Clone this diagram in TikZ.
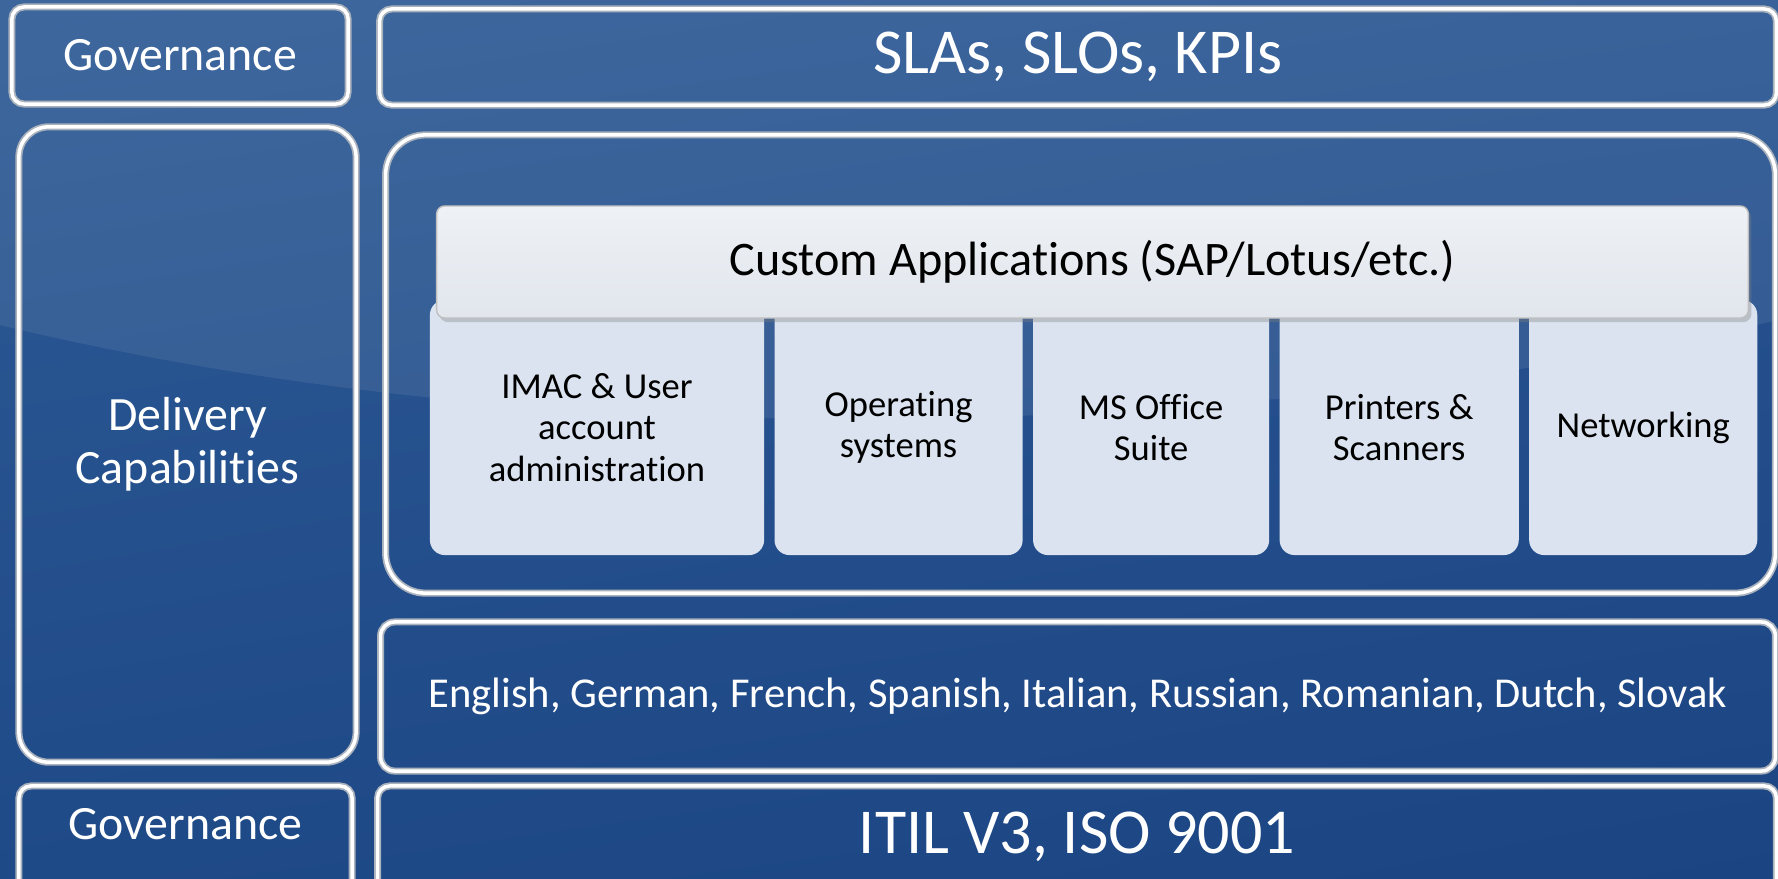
\documentclass[tikz,border=0pt]{standalone}
\usepackage{fontspec}
\setmainfont{Carlito}[Ligatures=NoCommon]
\usetikzlibrary{positioning,shadows,shadings}

\definecolor{bgtl}{HTML}{2D5A95}
\definecolor{bgtr}{HTML}{295592}
\definecolor{bgbl}{HTML}{1F4A88}
\definecolor{bgbr}{HTML}{1B4482}
\definecolor{rim}{HTML}{A9B1BC}
\definecolor{tilefill}{HTML}{DAE3EF}
\definecolor{bartop}{HTML}{EEF1F5}
\definecolor{barbot}{HTML}{E1E6ED}

\begin{document}
\begin{tikzpicture}[x=0.01cm,y=-0.01cm,node distance=0.09cm]
	\tikzstyle{frame}=[rectangle, draw=rim, double=white, double distance=1pt, line width=0.5pt, inner sep=0pt, text=white, align=center]
	\tikzstyle{tile}=[rectangle, fill=tilefill, rounded corners=0.15cm, minimum height=2.55cm, inner sep=0pt, align=center, text=black, font=\fontsize{10.4}{11.8}\selectfont]
	\tikzstyle{appbar}=[rectangle, top color=bartop, bottom color=barbot, draw=black!25, line width=0.4pt, rounded corners=0.08cm, drop shadow={shadow xshift=0.03cm, shadow yshift=-0.04cm, opacity=0.35}, text=black, font=\fontsize{13.7}{15}\selectfont]
	\tikzstyle{bigtext}=[font=\fontsize{18.2}{22}\selectfont]
	\tikzstyle{midtext}=[font=\fontsize{13.6}{15}\selectfont]

	\useasboundingbox (0,0) rectangle (1778,878);
	\shade[upper left=bgtl, upper right=bgtr, lower left=bgbl, lower right=bgbr] (0,0) rectangle (1778,878);
	\fill[white, opacity=0.08] (0,0) -- (0,325) .. controls (600,470) and (1300,430) .. (1778,320) -- (1778,0) -- cycle;

	\node [frame, midtext, rounded corners=0.12cm, minimum width=3.36cm, minimum height=0.97cm] (gov1) at (180,55.5) {Governance};
	\node [frame, bigtext, rounded corners=0.12cm, minimum width=13.96cm, minimum height=0.96cm] (sla) at (1078,57) {SLAs, SLOs, KPIs};
	\node [frame, midtext, rounded corners=0.3cm, minimum width=3.37cm, minimum height=6.35cm] (deliv) at (187.5,444.5) {Delivery\\Capabilities};
	\node [frame, rounded corners=0.4cm, minimum width=13.89cm, minimum height=4.58cm] (cont) at (1080.5,364) {};

	\node [tile, minimum width=3.34cm] (imac) at (597,427.5) {IMAC \& User\\account\\administration};
	\node [tile, minimum width=2.48cm, right=of imac] (os) {Operating\\systems};
	\node [tile, minimum width=2.36cm, right=of os] (office) {MS Office\\Suite};
	\node [tile, minimum width=2.39cm, right=of office] (print) {Printers \&\\Scanners};
	\node [tile, minimum width=2.28cm, right=of print] (net) {Networking};
	\node [appbar, minimum width=13.11cm, minimum height=1.12cm] (apps) at (1092.5,262) {Custom Applications (SAP/Lotus/etc.)};

	\node [frame, font=\fontsize{12.1}{14}\selectfont, rounded corners=0.14cm, minimum width=13.94cm, minimum height=1.49cm] (lang) at (1078,696.5) {English, German, French, Spanish, Italian, Russian, Romanian, Dutch, Slovak};
	\node [frame, midtext, rounded corners=0.12cm, minimum width=3.33cm, minimum height=1.09cm] (gov2) at (185.5,840.5) {\raisebox{0.33cm}{Governance}};
	\node [frame, bigtext, rounded corners=0.12cm, minimum width=13.98cm, minimum height=1.09cm] (itil) at (1077,840.5) {\raisebox{0.15cm}{ITIL V3, ISO 9001}};
\end{tikzpicture}
\end{document}
